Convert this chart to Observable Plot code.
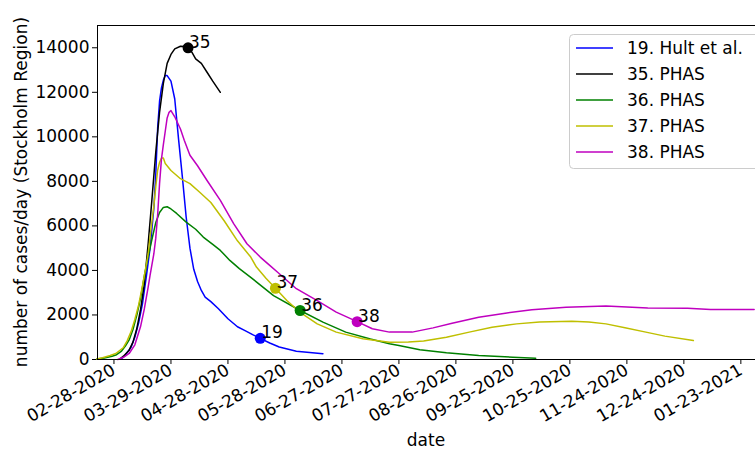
<!DOCTYPE html>
<html><head><meta charset="utf-8">
<script src="https://cdn.jsdelivr.net/npm/d3@7"></script>
<script src="https://cdn.jsdelivr.net/npm/@observablehq/plot@0.6"></script>
<style>
body{margin:0;background:#fff;}
#chart{position:relative;width:755px;height:451px;overflow:hidden;}
</style>
</head><body><div id="chart"></div>
<script>
const seriesNames = ["19. Hult et al.", "35. PHAS", "36. PHAS", "37. PHAS", "38. PHAS"];
const seriesColors = ["#0000ff", "#000000", "#008000", "#bfbf00", "#bf00bf"];

const hultDates = ["2020-03-03","2020-03-05","2020-03-08","2020-03-10","2020-03-12","2020-03-14","2020-03-16","2020-03-18","2020-03-20","2020-03-21","2020-03-22","2020-03-23","2020-03-24","2020-03-25","2020-03-26","2020-03-27","2020-03-29","2020-03-31","2020-04-02","2020-04-04","2020-04-06","2020-04-08","2020-04-10","2020-04-12","2020-04-14","2020-04-16","2020-04-19","2020-04-23","2020-04-28","2020-05-03","2020-05-07","2020-05-11","2020-05-15","2020-05-20","2020-05-25","2020-06-03","2020-06-17"];
const hultValues = [30,200,550,1000,1650,2500,3700,5000,6800,8300,10400,11600,12200,12550,12750,12750,12500,11700,9900,8200,6400,5000,4050,3500,3100,2800,2600,2280,1830,1470,1300,1120,950,740,560,370,260];

const phas35Dates = ["2020-03-02","2020-03-04","2020-03-07","2020-03-09","2020-03-11","2020-03-13","2020-03-15","2020-03-17","2020-03-19","2020-03-21","2020-03-23","2020-03-25","2020-03-27","2020-03-29","2020-03-31","2020-04-03","2020-04-05","2020-04-07","2020-04-09","2020-04-11","2020-04-14","2020-04-17","2020-04-20","2020-04-24"];
const phas35Values = [20,150,420,780,1380,2250,3400,5200,7200,9300,11100,12400,13300,13700,13950,14070,14060,14000,13800,13500,13300,12900,12500,12000];

const phas36Dates = ["2020-02-19","2020-02-23","2020-02-27","2020-02-29","2020-03-03","2020-03-05","2020-03-07","2020-03-09","2020-03-11","2020-03-13","2020-03-15","2020-03-17","2020-03-19","2020-03-21","2020-03-23","2020-03-25","2020-03-27","2020-03-29","2020-04-01","2020-04-06","2020-04-11","2020-04-15","2020-04-20","2020-04-24","2020-04-29","2020-05-04","2020-05-10","2020-05-22","2020-06-05","2020-06-17","2020-06-29","2020-07-12","2020-07-22","2020-07-27","2020-08-07","2020-08-21","2020-09-07","2020-09-25","2020-10-07"];
const phas36Values = [20,70,150,200,380,600,880,1350,1980,2750,3750,4620,5400,6150,6600,6830,6860,6760,6560,6170,5850,5500,5170,4900,4450,4080,3690,2870,2200,1680,1230,920,710,630,440,300,180,100,60];

const phas37Dates = ["2020-02-19","2020-02-22","2020-02-26","2020-02-29","2020-03-04","2020-03-06","2020-03-08","2020-03-10","2020-03-12","2020-03-14","2020-03-16","2020-03-17","2020-03-18","2020-03-19","2020-03-20","2020-03-21","2020-03-22","2020-03-23","2020-03-24","2020-03-25","2020-03-26","2020-03-29","2020-04-03","2020-04-08","2020-04-13","2020-04-19","2020-04-26","2020-05-03","2020-05-10","2020-05-13","2020-05-18","2020-05-23","2020-05-29","2020-06-05","2020-06-14","2020-06-24","2020-07-08","2020-07-22","2020-08-01","2020-08-09","2020-08-21","2020-09-02","2020-09-14","2020-09-27","2020-10-09","2020-10-26","2020-11-04","2020-11-13","2020-11-23","2020-12-04","2020-12-14","2020-12-29"];
const phas37Values = [20,80,180,270,540,850,1250,1800,2450,3300,4250,4750,5500,6200,6900,7750,8500,8850,9050,9050,8800,8490,8120,7900,7520,7050,6230,5330,4600,4150,3650,3200,2650,2120,1600,1230,930,780,790,830,1000,1230,1450,1600,1680,1720,1680,1600,1430,1230,1050,850];

const phas38Dates = ["2020-03-01","2020-03-04","2020-03-07","2020-03-10","2020-03-13","2020-03-15","2020-03-17","2020-03-18","2020-03-20","2020-03-21","2020-03-22","2020-03-23","2020-03-24","2020-03-25","2020-03-26","2020-03-27","2020-03-28","2020-03-29","2020-03-31","2020-04-03","2020-04-05","2020-04-08","2020-04-12","2020-04-17","2020-04-24","2020-05-01","2020-05-08","2020-05-15","2020-05-20","2020-05-24","2020-06-03","2020-06-14","2020-06-24","2020-07-05","2020-07-13","2020-07-22","2020-08-03","2020-08-14","2020-08-24","2020-09-07","2020-09-21","2020-10-05","2020-10-23","2020-11-13","2020-12-05","2020-12-26","2021-01-07","2021-01-30"];
const phas38Values = [0,100,270,660,1480,2280,3250,3780,4750,5450,6500,7900,9000,9650,10250,10850,11100,11180,10900,10350,9850,9170,8700,8040,7150,6100,5200,4600,4230,3930,3180,2640,2130,1700,1380,1230,1230,1420,1630,1900,2080,2230,2350,2400,2310,2300,2240,2240];

const markerLabels = ["19", "35", "36", "37", "38"];
const markerDates = ["2020-05-15", "2020-04-07", "2020-06-05", "2020-05-23", "2020-07-05"];
const markerValues = [950, 14000, 2200, 3200, 1700];

const xTickLabels = ["02-28-2020","03-29-2020","04-28-2020","05-28-2020","06-27-2020","07-27-2020","08-26-2020","09-25-2020","10-25-2020","11-24-2020","12-24-2020","01-23-2021"];
const yTicks = [0, 2000, 4000, 6000, 8000, 10000, 12000, 14000];

const parse = d3.utcParse("%Y-%m-%d");
const parseTick = d3.utcParse("%m-%d-%Y");
const seriesDates = [hultDates, phas35Dates, phas36Dates, phas37Dates, phas38Dates];
const seriesValues = [hultValues, phas35Values, phas36Values, phas37Values, phas38Values];
const rows = [];
seriesNames.forEach((name, i) => {
  seriesDates[i].forEach((d, j) => rows.push({series: name, date: parse(d), value: seriesValues[i][j]}));
});
const markers = markerLabels.map((l, i) => ({label: l, series: seriesNames[i], date: parse(markerDates[i]), value: markerValues[i]}));
const xTicks = xTickLabels.map(parseTick);

const xStart = new Date(Date.UTC(2020, 1, 19, 8));
const xEnd = new Date(Date.UTC(2021, 0, 30, 17));
const font = "DejaVu Sans";

const plot = Plot.plot({
  width: 755, height: 451,
  marginLeft: 97, marginRight: 0, marginTop: 25, marginBottom: 92,
  style: {fontFamily: font, fontSize: "17px", color: "#000", background: "#fff", overflow: "visible"},
  x: {type: "utc", domain: [xStart, xEnd]},
  y: {domain: [0, 15000]},
  color: {type: "ordinal", domain: seriesNames, range: seriesColors},
  marks: [
    Plot.axisX({ticks: xTicks, tickFormat: d3.utcFormat("%m-%d-%Y"), tickRotate: -30, tickSize: 5, tickPadding: 4, label: null, fontSize: 17}),
    Plot.axisY({ticks: yTicks, tickFormat: d3.format("d"), tickSize: 5, tickPadding: 3, label: null, fontSize: 17}),
    Plot.line(rows, {x: "date", y: "value", z: "series", stroke: "series", strokeWidth: 1.5}),
    Plot.dot(markers, {x: "date", y: "value", fill: "series", r: 5.5}),
    Plot.text(markers, {x: "date", y: "value", text: "label", textAnchor: "start", lineAnchor: "bottom", dx: 1, dy: 0, fontSize: 17, fill: "#000"}),
    Plot.ruleX([xStart], {stroke: "#000", strokeWidth: 1}),
    Plot.ruleY([0, 15000], {stroke: "#000", strokeWidth: 1})
  ]
});

document.getElementById("chart").appendChild(plot);

const svg = d3.select(plot);
svg.append("text")
  .attr("transform", "translate(27,192) rotate(-90)")
  .attr("text-anchor", "middle")
  .attr("font-family", font).attr("font-size", 17).attr("fill", "#000")
  .text("number of cases/day (Stockholm Region)");
svg.append("text")
  .attr("x", 426).attr("y", 446)
  .attr("text-anchor", "middle")
  .attr("font-family", font).attr("font-size", 17).attr("fill", "#000")
  .text("date");

const lg = svg.append("g");
lg.append("rect").attr("x", 569.5).attr("y", 34.5).attr("width", 200).attr("height", 134)
  .attr("rx", 4).attr("fill", "#fff").attr("fill-opacity", 0.8).attr("stroke", "#ccc");
seriesNames.forEach((name, i) => {
  const yy = 48 + i * 26;
  lg.append("line").attr("x1", 576).attr("x2", 613).attr("y1", yy).attr("y2", yy)
    .attr("stroke", seriesColors[i]).attr("stroke-width", 1.5);
  lg.append("text").attr("x", 627).attr("y", yy).attr("dy", "0.35em")
    .attr("text-anchor", "start")
    .attr("font-family", font).attr("font-size", 17).attr("fill", "#000").text(name);
});
</script>
</body></html>
